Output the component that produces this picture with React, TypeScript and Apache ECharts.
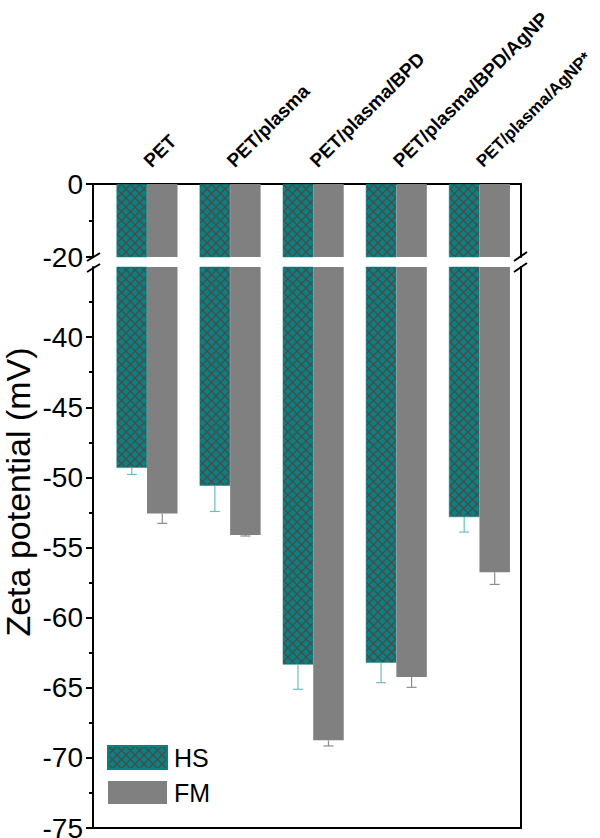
import React, { useEffect, useRef } from "react";
import * as echarts from "echarts";

const categories = ["PET", "PET/plasma", "PET/plasma/BPD", "PET/plasma/BPD/AgNP", "PET/plasma/AgNP*"];
const hsValues = [-49.32, -50.6, -63.35, -63.21, -52.83];
const hsErrors = [0.47, 1.83, 1.76, 1.43, 1.07];
const fmValues = [-52.57, -54.11, -68.75, -64.23, -56.77];
const fmErrors = [0.71, 0.07, 0.4, 0.74, 0.86];
const topMajorTicks = [0, -20];
const topMinorTicks = [-10];
const bottomMajorTicks = [-40, -45, -50, -55, -60, -65, -70, -75];
const bottomMinorTicks = [-37.5, -42.5, -47.5, -52.5, -57.5, -62.5, -67.5, -72.5];

const FONT = "'Liberation Sans', Arial, Helvetica, sans-serif";
const TEAL = "#0b8080";
const GRAY = "#808080";
const HALF = 15.25;

function makePattern() {
  const s = 9;
  const c = document.createElement("canvas");
  c.width = s;
  c.height = s;
  const ctx = c.getContext("2d")!;
  ctx.fillStyle = TEAL;
  ctx.fillRect(0, 0, s, s);
  ctx.strokeStyle = "#4a4a4a";
  ctx.lineWidth = 1.3;
  ctx.beginPath();
  ctx.moveTo(0, 0);
  ctx.lineTo(s, s);
  ctx.moveTo(s, 0);
  ctx.lineTo(0, s);
  ctx.stroke();
  return { image: c.toDataURL(), repeat: "repeat", imageWidth: s, imageHeight: s } as any;
}

export default function App() {
  const ref = useRef<HTMLDivElement>(null);
  useEffect(() => {
    if (!ref.current) return;
    const chart = echarts.init(ref.current, undefined, { renderer: "svg" });
    const pattern = makePattern();
    const axisLine = { show: true, onZero: false, lineStyle: { color: "#000", width: 2 } };
    const xCommon = { type: "value" as const, min: -0.65, max: 4.5, splitLine: { show: false }, axisTick: { show: false } };
    const yLabel = { fontSize: 28, color: "#000", fontFamily: FONT, margin: 10 };
    const hsBarStyle = { color: pattern, borderColor: TEAL, borderWidth: 0.5 };
    const fmBarStyle = { color: GRAY };
    const errData = [
      ...hsValues.map((v, i) => [i, v, hsErrors[i], 0]),
      ...fmValues.map((v, i) => [i, v, fmErrors[i], 1]),
    ];
    const option: any = {
      animation: false,
      backgroundColor: "#fff",
      grid: [
        { left: 93, right: 79, top: 184, height: 73, containLabel: false, outerBoundsMode: "none" },
        { left: 93, right: 79, top: 267, height: 561, containLabel: false, outerBoundsMode: "none" },
      ],
      xAxis: [
        {
          ...xCommon,
          gridIndex: 0,
          position: "top",
          axisLine,
          axisLabel: {
            customValues: [0, 1, 2, 3, 4],
            formatter: (v: number) => {
              const i = Math.round(v);
              const name = categories[i] ?? "";
              return i === categories.length - 1 ? `{s|${name}}` : name;
            },
            rich: { s: { fontSize: 17, fontWeight: "bold", color: "#000", fontFamily: FONT } },
            rotate: -45,
            fontSize: 19,
            fontWeight: "bold",
            color: "#000",
            fontFamily: FONT,
            margin: 20,
            hideOverlap: false,
          },
        },
        { ...xCommon, gridIndex: 1, position: "bottom", axisLine, axisLabel: { show: false } },
      ],
      yAxis: [
        {
          type: "value", gridIndex: 0, min: -20, max: 0, position: "left", axisLine,
          axisTick: { show: true, customValues: topMajorTicks, length: 7, lineStyle: { color: "#000", width: 2 } },
          axisLabel: { ...yLabel, customValues: topMajorTicks },
          splitLine: { show: false },
        },
        {
          type: "value", gridIndex: 0, min: -20, max: 0, position: "left", axisLine: { show: false, onZero: false },
          axisTick: { show: true, customValues: topMinorTicks, length: 4, lineStyle: { color: "#000", width: 2 } },
          axisLabel: { show: false }, splitLine: { show: false },
        },
        {
          type: "value", gridIndex: 0, min: -20, max: 0, position: "right", axisLine,
          axisTick: { show: false }, axisLabel: { show: false }, splitLine: { show: false },
        },
        {
          type: "value", gridIndex: 1, min: -75, max: -35, position: "left", axisLine,
          axisTick: { show: true, customValues: bottomMajorTicks, length: 7, lineStyle: { color: "#000", width: 2 } },
          axisLabel: { ...yLabel, customValues: bottomMajorTicks },
          splitLine: { show: false },
        },
        {
          type: "value", gridIndex: 1, min: -75, max: -35, position: "left", axisLine: { show: false, onZero: false },
          axisTick: { show: true, customValues: bottomMinorTicks, length: 4, lineStyle: { color: "#000", width: 2 } },
          axisLabel: { show: false }, splitLine: { show: false },
        },
        {
          type: "value", gridIndex: 1, min: -75, max: -35, position: "right", axisLine,
          axisTick: { show: false }, axisLabel: { show: false }, splitLine: { show: false },
        },
      ],
      legend: {
        data: ["HS", "FM"],
        orient: "vertical",
        left: 107,
        top: 745,
        itemWidth: 59,
        itemHeight: 23,
        itemGap: 10,
        padding: 0,
        selectedMode: false,
        icon: "rect",
        textStyle: { fontSize: 25, color: "#000", fontFamily: FONT, padding: [0, 0, 0, 2] },
      },
      graphic: [
        {
          type: "text",
          x: 18,
          y: 492,
          rotation: Math.PI / 2,
          style: { text: "Zeta potential (mV)", font: `34px ${FONT}`, fill: "#000", textAlign: "center", textVerticalAlign: "middle" },
        },
        { type: "line", shape: { x1: 87, y1: 261, x2: 100, y2: 253 }, style: { stroke: "#000", lineWidth: 2 } },
        { type: "line", shape: { x1: 87, y1: 272, x2: 100, y2: 264 }, style: { stroke: "#000", lineWidth: 2 } },
        { type: "line", shape: { x1: 514, y1: 261, x2: 527, y2: 252 }, style: { stroke: "#000", lineWidth: 2 } },
        { type: "line", shape: { x1: 514, y1: 272, x2: 527, y2: 263 }, style: { stroke: "#000", lineWidth: 2 } },
      ],
      series: [
        { name: "HS", type: "bar", xAxisIndex: 0, yAxisIndex: 0, barWidth: 30.5, barGap: "0%", clip: true, itemStyle: hsBarStyle, data: hsValues.map((v, i) => [i, v]) },
        { name: "FM", type: "bar", xAxisIndex: 0, yAxisIndex: 0, barWidth: 30.5, barGap: "0%", clip: true, itemStyle: fmBarStyle, data: fmValues.map((v, i) => [i, v]) },
        { name: "HS", type: "bar", xAxisIndex: 1, yAxisIndex: 3, barWidth: 30.5, barGap: "0%", clip: true, itemStyle: hsBarStyle, data: hsValues.map((v, i) => [i, v]) },
        { name: "FM", type: "bar", xAxisIndex: 1, yAxisIndex: 3, barWidth: 30.5, barGap: "0%", clip: true, itemStyle: fmBarStyle, data: fmValues.map((v, i) => [i, v]) },
        {
          name: "err",
          type: "custom",
          xAxisIndex: 1,
          yAxisIndex: 3,
          encode: { x: 0, y: 1 },
          data: errData,
          z: 5,
          renderItem: (params: any, api: any) => {
            const x = api.value(0);
            const v = api.value(1);
            const e = api.value(2);
            const s = api.value(3);
            const p0 = api.coord([x, v]);
            const p1 = api.coord([x, v - e]);
            const cx = p0[0] + (s === 0 ? -HALF : HALF);
            const color = s === 0 ? "#6fbcbc" : "#8c8c8c";
            return {
              type: "group",
              children: [
                { type: "line", shape: { x1: cx, y1: p0[1], x2: cx, y2: p1[1] }, style: { stroke: color, lineWidth: 1.2 } },
                { type: "line", shape: { x1: cx - 5, y1: p1[1], x2: cx + 5, y2: p1[1] }, style: { stroke: color, lineWidth: 1.2 } },
              ],
            };
          },
        },
      ],
    };
    chart.setOption(option);
    return () => chart.dispose();
  }, []);
  return <div ref={ref} style={{ width: 600, height: 838, position: "absolute", left: 0, top: 0 }} />;
}
